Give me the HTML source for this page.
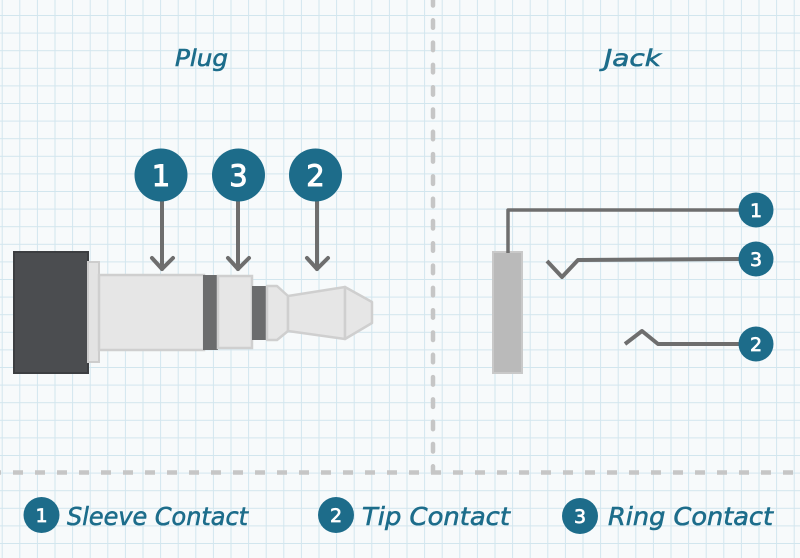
<!DOCTYPE html>
<html>
<head>
<meta charset="utf-8">
<style>
html,body{margin:0;padding:0;background:#f7fafb;}
svg{display:block;}
text{font-family:"DejaVu Sans","Liberation Sans",sans-serif;}
</style>
</head>
<body>
<svg width="800" height="558" viewBox="0 0 800 558" xmlns="http://www.w3.org/2000/svg">
<defs>
<pattern id="grid" patternUnits="userSpaceOnUse" x="1.7" y="15" width="17.6" height="17.6">
<path d="M0 0.5 H17.6 M0.5 0 V17.6" stroke="#d2e6ee" stroke-width="1" fill="none"/>
</pattern>
</defs>
<rect x="0" y="0" width="800" height="558" fill="#f7fafb"/>
<rect x="0" y="0" width="800" height="558" fill="url(#grid)"/>

<!-- dashed separators -->
<line x1="433" y1="0" x2="433" y2="472" stroke="#c6c6c6" stroke-width="4.5" stroke-dasharray="7.5 14.8" stroke-dashoffset="2" stroke-linecap="round"/>
<line x1="0" y1="472.5" x2="800" y2="472.5" stroke="#c6c6c6" stroke-width="4.5" stroke-dasharray="10 12" stroke-dashoffset="9"/>

<!-- titles -->
<text x="175" y="66" font-size="23" font-style="italic" fill="#1d6d8b" stroke="#1d6d8b" stroke-width="0.6" textLength="53" lengthAdjust="spacingAndGlyphs">Plug</text>
<text x="604" y="66" font-size="23" font-style="italic" fill="#1d6d8b" stroke="#1d6d8b" stroke-width="0.6" textLength="57" lengthAdjust="spacingAndGlyphs">Jack</text>

<!-- plug -->
<rect x="14" y="252" width="74" height="121" fill="#4b4d50" stroke="#3c3e41" stroke-width="2"/>
<rect x="88" y="262" width="11" height="100" fill="#e3e3e3" stroke="#cdcdcd" stroke-width="2"/>
<rect x="99" y="275" width="105" height="75" fill="#e6e6e6" stroke="#cfcfcf" stroke-width="2.5"/>
<rect x="203" y="275" width="15" height="75" fill="#6b6c6d"/>
<rect x="218" y="276" width="34" height="72" fill="#e6e6e6" stroke="#cfcfcf" stroke-width="2.5"/>
<rect x="252" y="286" width="15" height="54" fill="#6b6c6d"/>
<path d="M267 286 L277 286 L288 296 L288 331 L277 340 L267 340 Z" fill="#e6e6e6" stroke="#cfcfcf" stroke-width="2.5" stroke-linejoin="round"/>
<path d="M288 296 L345 287 L345 339 L288 331 Z" fill="#e6e6e6" stroke="#cfcfcf" stroke-width="2.5" stroke-linejoin="round"/>
<path d="M345 287 L372 302 L372 323 L345 339 Z" fill="#e6e6e6" stroke="#cfcfcf" stroke-width="2.5" stroke-linejoin="round"/>

<!-- plug arrows -->
<g stroke="#6e6e6e" stroke-width="4" fill="none" stroke-linecap="round" stroke-linejoin="round">
<line x1="162" y1="200" x2="162" y2="269"/>
<polyline points="152,258 162,269 173,258"/>
<line x1="238" y1="200" x2="238" y2="269"/>
<polyline points="228,258 238,269 249,258"/>
<line x1="317" y1="200" x2="317" y2="269"/>
<polyline points="307,258 317,269 328,258"/>
</g>

<!-- plug circles -->
<g fill="#1d6c8a">
<circle cx="161" cy="175" r="26.5"/>
<circle cx="238.5" cy="175" r="26.5"/>
<circle cx="315.5" cy="175" r="26.5"/>
</g>
<g fill="#ffffff" font-size="29" text-anchor="middle" stroke="#ffffff" stroke-width="1">
<text x="161" y="186">1</text>
<text x="238.5" y="186">3</text>
<text x="315.5" y="186">2</text>
</g>

<!-- jack -->
<rect x="493" y="252" width="29" height="121" fill="#bababa" stroke="#c9c9c9" stroke-width="2"/>
<g stroke="#6e6e6e" stroke-width="4" fill="none" stroke-linejoin="round">
<polyline points="508,253 508,210 740,210" stroke-width="3.5"/>
<polyline points="547,261 562,277 578,260 740,259"/>
<polyline points="625,344 642,331 658,344 740,344"/>
</g>
<g fill="#1d6c8a">
<circle cx="756" cy="210" r="17.5"/>
<circle cx="756" cy="259" r="17.5"/>
<circle cx="756" cy="344" r="17.5"/>
</g>
<g fill="#ffffff" font-size="19" text-anchor="middle" stroke="#ffffff" stroke-width="0.7">
<text x="756" y="217">1</text>
<text x="756" y="266">3</text>
<text x="756" y="351">2</text>
</g>

<!-- legend -->
<g fill="#1d6c8a">
<circle cx="41.5" cy="515" r="18"/>
<circle cx="336" cy="515" r="18"/>
<circle cx="580" cy="516" r="18"/>
</g>
<g fill="#ffffff" font-size="19" text-anchor="middle" stroke="#ffffff" stroke-width="0.7">
<text x="41.5" y="522">1</text>
<text x="336" y="522">2</text>
<text x="580" y="523">3</text>
</g>
<g fill="#1d6d8b" font-size="25" font-style="italic" stroke="#1d6d8b" stroke-width="0.6">
<text x="67" y="525" textLength="181" lengthAdjust="spacingAndGlyphs">Sleeve Contact</text>
<text x="362" y="525" textLength="148" lengthAdjust="spacingAndGlyphs">Tip Contact</text>
<text x="608" y="525" textLength="165" lengthAdjust="spacingAndGlyphs">Ring Contact</text>
</g>
</svg>
</body>
</html>
